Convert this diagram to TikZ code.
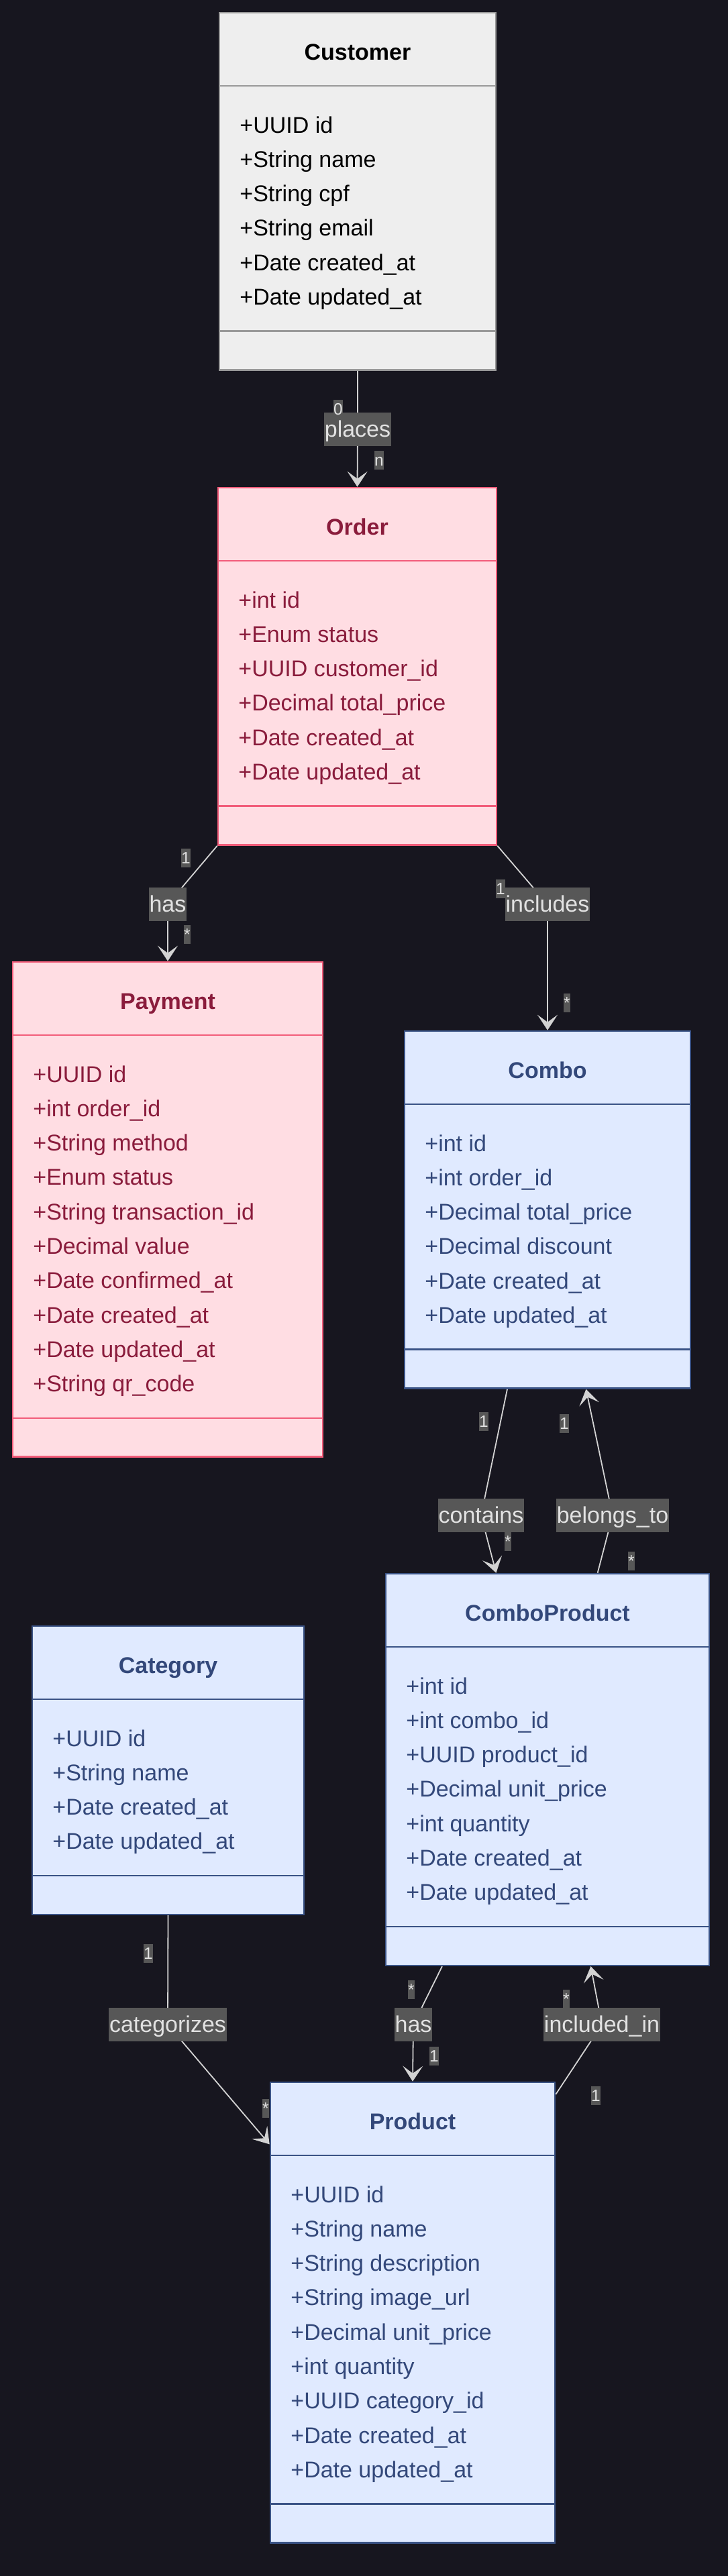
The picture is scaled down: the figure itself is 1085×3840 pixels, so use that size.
\documentclass[tikz,border=0pt]{standalone}
\usepackage{fontspec}
\setmainfont{Liberation Sans}
\usetikzlibrary{arrows.meta,fit,calc}
\definecolor{bgc}{HTML}{17161F}
\definecolor{greyfill}{HTML}{EEEEEE}
\definecolor{greydraw}{HTML}{999999}
\definecolor{greytext}{HTML}{000000}
\definecolor{pinkfill}{HTML}{FFDDE3}
\definecolor{pinkdraw}{HTML}{F25C7A}
\definecolor{pinktext}{HTML}{8A1C3C}
\definecolor{bluefill}{HTML}{E0EAFF}
\definecolor{bluedraw}{HTML}{3A5386}
\definecolor{bluetext}{HTML}{33487A}
\definecolor{edgec}{HTML}{D3D3D3}
\definecolor{labbg}{HTML}{575757}
\definecolor{labtext}{HTML}{E2E2E2}

\tikzset{
  bigfont/.style={font=\fontsize{17pt}{20pt}\selectfont},
  greybox/.style={draw=greydraw, fill=greyfill, line width=1.3pt, inner sep=0pt},
  pinkbox/.style={draw=pinkdraw, fill=pinkfill, line width=1.3pt, inner sep=0pt},
  bluebox/.style={draw=bluedraw, fill=bluefill, line width=1.3pt, inner sep=0pt},
  greysep/.style={draw=greydraw, line width=1.1pt},
  pinksep/.style={draw=pinkdraw, line width=1.1pt},
  bluesep/.style={draw=bluedraw, line width=1.1pt},
  greytitle/.style={text=greytext, inner sep=0pt, font=\fontsize{17pt}{20pt}\selectfont\bfseries},
  pinktitle/.style={text=pinktext, inner sep=0pt, font=\fontsize{17pt}{20pt}\selectfont\bfseries},
  bluetitle/.style={text=bluetext, inner sep=0pt, font=\fontsize{17pt}{20pt}\selectfont\bfseries},
  greyattr/.style={text=greytext, inner sep=0pt, bigfont},
  pinkattr/.style={text=pinktext, inner sep=0pt, bigfont},
  blueattr/.style={text=bluetext, inner sep=0pt, bigfont},
  edge/.style={draw=edgec, line width=0.9pt,
    -{Stealth[length=11.5pt,width=15pt,inset=5.5pt,fill=edgec]}},
  elabel/.style={fill=labbg, text=labtext, bigfont, inner xsep=0.5pt, inner ysep=0pt,
    minimum height=25pt, text height=12.5pt, text depth=1.5pt},
  clabel/.style={fill=labbg, text=labtext, font=\fontsize{12.25pt}{14pt}\selectfont,
    inner xsep=0.3pt, inner ysep=0pt, minimum height=14pt, text height=9pt, text depth=1pt},
}

% #1 name, #2 kind, #3 left, #4 top, #5 right, #6 title, #7 attributes
\newcommand{\umlclass}[7]{%
  \gdef\ucnt{0}%
  \foreach \a in {#7}{\xdef\ucnt{\the\numexpr\ucnt+1\relax}}%
  \pgfmathsetmacro{\ubot}{#4+276+(\ucnt-1)*51.3}%
  \pgfmathsetmacro{\usepa}{#4+109}%
  \pgfmathsetmacro{\usepb}{\ubot-58}%
  \node[#2box, fit={(#3,#4) (#5,\ubot)}] (#1) {};
  \draw[#2sep] (#3,\usepa) -- (#5,\usepa);
  \draw[#2sep] (#3,\usepb) -- (#5,\usepb);
  \node[#2title, anchor=base] (#1t) at ({(#3+#5)/2},{#4+70}) {#6};
  \foreach \a [count=\i] in {#7}{%
    \node[#2attr, anchor=base west] (#1a\i) at ({#3+30},{#4+179+(\i-1)*51.3}) {\a};
  }%
}

\begin{document}
\begin{tikzpicture}[x=0.5pt, y=-0.5pt]
\fill[bgc] (0,0) rectangle (1085,3840);
\useasboundingbox (0,0) rectangle (1085,3840);

\umlclass{cust}{grey}{327}{19}{739}{Customer}{+UUID id,+String name,+String cpf,+String email,+Date created\_at,+Date updated\_at}
\umlclass{order}{pink}{325}{727}{740}{Order}{+int id,+Enum status,+UUID customer\_id,+Decimal total\_price,+Date created\_at,+Date updated\_at}
\umlclass{pay}{pink}{19}{1434}{481}{Payment}{+UUID id,+int order\_id,+String method,+Enum status,+String transaction\_id,+Decimal value,+Date confirmed\_at,+Date created\_at,+Date updated\_at,+String qr\_code}
\umlclass{combo}{blue}{603}{1537}{1029}{Combo}{+int id,+int order\_id,+Decimal total\_price,+Decimal discount,+Date created\_at,+Date updated\_at}
\umlclass{cp}{blue}{575}{2346}{1057}{ComboProduct}{+int id,+int combo\_id,+UUID product\_id,+Decimal unit\_price,+int quantity,+Date created\_at,+Date updated\_at}
\umlclass{cat}{blue}{48}{2424}{453}{Category}{+UUID id,+String name,+Date created\_at,+Date updated\_at}
\umlclass{prod}{blue}{403}{3104}{827}{Product}{+UUID id,+String name,+String description,+String image\_url,+Decimal unit\_price,+int quantity,+UUID category\_id,+Date created\_at,+Date updated\_at}

% label centres
\coordinate (cplaces) at (533,640);
\coordinate (chas1) at (250,1348);
\coordinate (cincl) at (816,1348);
\coordinate (ccont) at (717,2259);
\coordinate (cbel) at (913,2259);
\coordinate (ccat) at (250,3018);
\coordinate (chas2) at (616,3018);
\coordinate (cincin) at (897,3018);

% connectors
\draw[edge] (cust.south) -- (cplaces) -- (order.north);
\draw[edge] (order.south west) -- (chas1) -- (pay.north);
\draw[edge] (order.south east) -- (cincl) -- (combo.north);
\draw[edge] ($(combo.south west)!0.36!(combo.south east)$) -- (ccont) -- ($(cp.north west)!0.342!(cp.north east)$);
\draw[edge] ($(cp.north west)!0.654!(cp.north east)$) -- (cbel) -- ($(combo.south west)!0.634!(combo.south east)$);
\draw[edge] (cat.south) -- (ccat) -- ($(prod.north west)!0.136!(prod.south west)$);
\draw[edge] ($(cp.south west)!0.176!(cp.south east)$) -- (chas2) -- (prod.north);
\draw[edge] ($(prod.north east)!0.028!(prod.south east)$) -- (cincin) -- ($(cp.south west)!0.633!(cp.south east)$);

% edge labels
\node[elabel] (tplaces) at (cplaces) {places};
\node[elabel] (thas1) at (chas1) {has};
\node[elabel] (tincl) at (cincl) {includes};
\node[elabel] (tcont) at (ccont) {contains};
\node[elabel] (tbel) at (cbel) {belongs\_to};
\node[elabel] (tcat) at (ccat) {categorizes};
\node[elabel] (thas2) at (chas2) {has};
\node[elabel] (tincin) at (cincin) {included\_in};

% cardinalities
\node[clabel] (k1) at (504,610) {0};
\node[clabel] (k2) at (565,686) {n};
\node[clabel] (k3) at (277,1279) {1};
\node[clabel] (k4) at (279,1393) {*};
\node[clabel] (k5) at (746,1325) {1};
\node[clabel] (k6) at (845,1495) {*};
\node[clabel] (k7) at (721,2119) {1};
\node[clabel] (k8) at (757,2298) {*};
\node[clabel] (k9) at (841,2122) {1};
\node[clabel] (k10) at (941,2327) {*};
\node[clabel] (k11) at (221,2912) {1};
\node[clabel] (k12) at (396,3143) {*};
\node[clabel] (k13) at (613,2966) {*};
\node[clabel] (k14) at (647,3065) {1};
\node[clabel] (k15) at (844,2980) {*};
\node[clabel] (k16) at (888,3124) {1};
\end{tikzpicture}
\end{document}
